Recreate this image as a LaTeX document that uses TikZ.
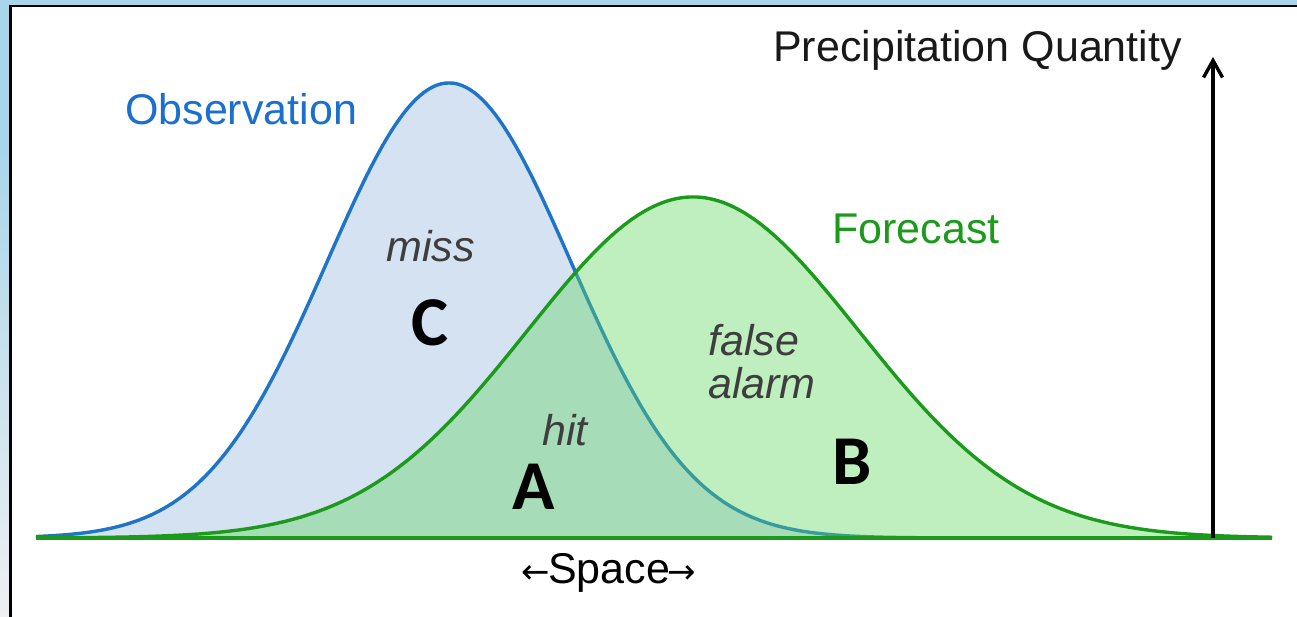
\documentclass[tikz,border=0pt]{standalone}
\usepackage{fontspec}
\setmainfont{Liberation Sans}
\newfontfamily\letfont{Carlito}
\newfontfamily\arrfont{DejaVu Sans}
\usetikzlibrary{arrows.meta}
\definecolor{bgblue}{HTML}{A9D5EB}
\definecolor{bggray}{HTML}{EEF0F2}
\definecolor{obsline}{HTML}{1E74C6}
\definecolor{obsfill}{HTML}{D4E2F2}
\definecolor{fcline}{HTML}{1C9A1C}
\definecolor{fcfill}{RGB}{97,215,97}
\definecolor{labgray}{HTML}{3E3E3E}
\definecolor{obstext}{HTML}{1A6FCF}
\tikzset{
  big/.style={font=\fontsize{43}{48}\selectfont, inner sep=0pt},
  itlab/.style={big, font=\fontsize{43}{48}\selectfont\itshape, text=labgray},
  letlab/.style={inner sep=0pt, font=\fontsize{70}{80}\selectfont\letfont\bfseries, text=black},
}
\begin{document}
\begin{tikzpicture}[x=1pt,y=-1pt]
\useasboundingbox (0,0) rectangle (1297,617);
% frame
\fill[bgblue] (0,0) rectangle (1297,617);
\shade[top color=bgblue, bottom color=bggray] (0,150) rectangle (11,617);
\fill[white] (11,7) rectangle (1297,617);
\draw[line width=2.5pt] (10.5,617) -- (10.5,6) -- (1297,6);
% observation
\fill[obsfill] plot[domain=36:1272, samples=300] (\x, {538-455*exp(-0.5*((\x-449)/122)^2)}) -- cycle;
\draw[obsline, line width=3.4pt] plot[domain=36:1272, samples=300] (\x, {538-455*exp(-0.5*((\x-449)/122)^2)});
% forecast
\fill[fcfill, opacity=0.4] plot[domain=36:1272, samples=300] (\x, {538-341*exp(-0.5*((\x-693)/166)^2)}) -- cycle;
\draw[fcline, line width=3.4pt] plot[domain=36:1272, samples=300] (\x, {538-341*exp(-0.5*((\x-693)/166)^2)});
\draw[fcline, line width=4pt] (36,538) -- (1272,538);
% axis arrow
\coordinate (axb) at (1213,538);
\coordinate (axt) at (1213,57);
\draw[line width=3.6pt, -{Straight Barb[length=17pt, width=19pt, line width=3.4pt]}] (axb) -- (axt);
% labels
\node[big, anchor=base west, text=obstext] (obs) at (125,125) {Observation};
\node[big, anchor=base west, text=fcline] (fc) at (832,244) {Forecast};
\node[big, anchor=base west, text=black!90] (pq) at (773,62) {Precipitation Quantity};
\node[itlab, anchor=base west] (miss) at (386,262) {miss};
\node[itlab, anchor=base west] (hit) at (542,445) {hit};
\node[itlab, anchor=base west] (fa1) at (708,355) {false};
\node[itlab, anchor=base west] (fa2) at (708,398) {alarm};
\node[big, anchor=base, text=black] (sp) at (609,583) {{\arrfont\fontsize{34}{40}\selectfont ←}\kern-2pt Space\kern-2pt{\arrfont\fontsize{34}{40}\selectfont →}};
\node[letlab] (lc) at (430,323) {C};
\node[letlab] (la) at (534,487) {A};
\node[letlab] (lb) at (852,462) {B};
\end{tikzpicture}
\end{document}
